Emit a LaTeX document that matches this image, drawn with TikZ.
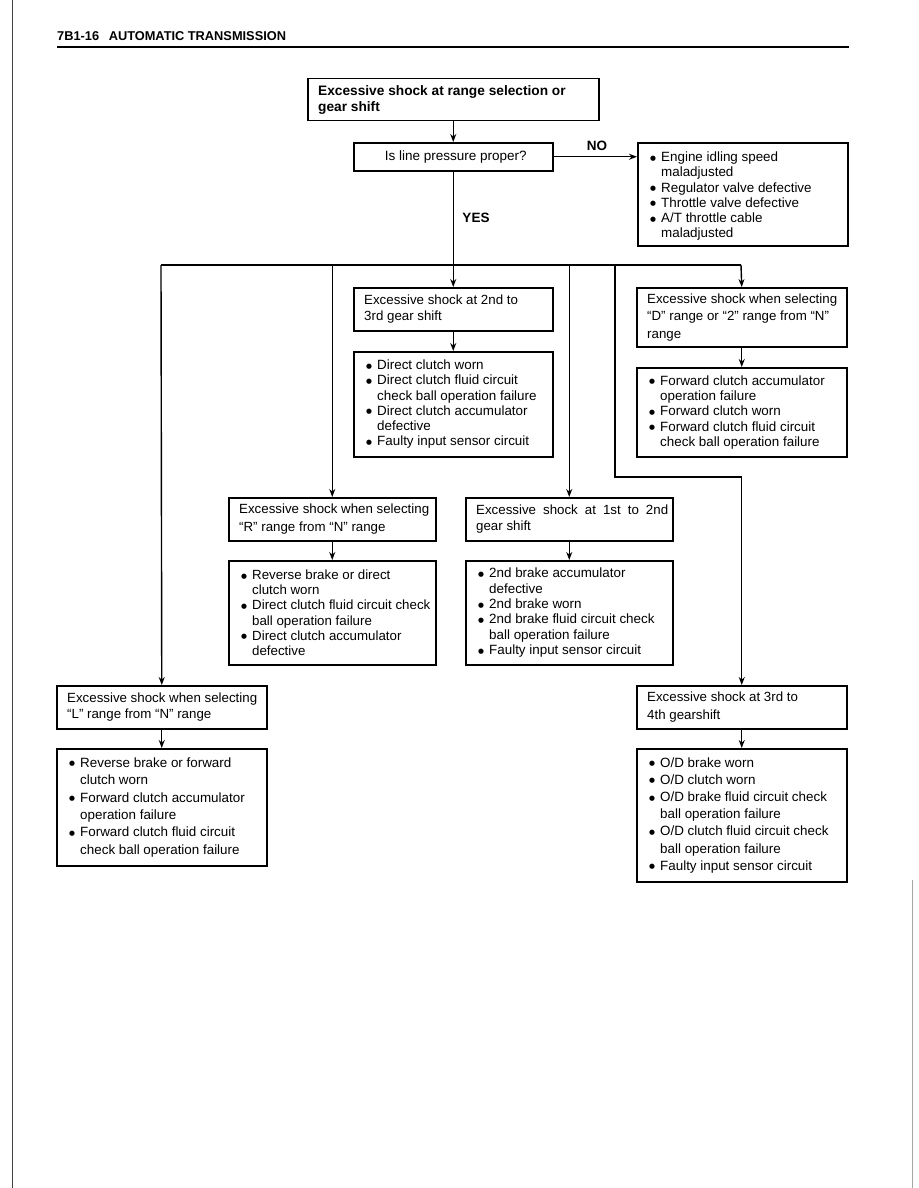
\documentclass[tikz,border=0pt]{standalone}
\usepackage{fontspec}
\setmainfont{Liberation Sans}
\newfontfamily\dvs{DejaVu Sans}
\usetikzlibrary{arrows.meta}
\newcommand{\bul}{\makebox[11pt][l]{\raisebox{1.4pt}{\dvs\fontsize{6.8}{6.8}\selectfont ●}}}
\newcommand{\ind}{\hspace*{11pt}}
\tikzset{
  box/.style={draw, rectangle, line width=1.5pt, anchor=north west, inner sep=0pt},
  txt/.style={anchor=west, align=left, inner sep=0pt, font=\fontsize{13.3}{16.5}\selectfont},
  cause/.style={anchor=west, align=left, inner sep=0pt, font=\fontsize{13.4}{15.3}\selectfont},
  conn/.style={line width=1.4pt},
  arr/.style={line width=1.4pt, -{Stealth[length=8pt,width=6pt]}},
  lab/.style={inner sep=0pt, font=\bfseries\fontsize{13.5}{13.5}\selectfont},
}
\begin{document}
\begin{tikzpicture}[x=1pt,y=-1pt]
\useasboundingbox (0,0) rectangle (918,1188);
% scan borders
\draw[line width=0.9pt, black!75] (12,0) -- (12,1188);
\draw[line width=0.6pt, black!35] (912,880) -- (912,1188);
% header
\node[anchor=base west, inner sep=0pt, font=\bfseries\fontsize{12.8}{12.8}\selectfont] (hdr) at (57,41) {7B1-16\hspace{0.75em}AUTOMATIC TRANSMISSION};
\draw[line width=2.6pt] (57,47) -- (849,47);

% boxes
\node[box, minimum width=291pt, minimum height=42pt] (top) at (307,78) {};
\node[txt, font=\bfseries\fontsize{13.7}{16}\selectfont] (ttop) at ([xshift=11pt]top.west) {Excessive shock at range selection or\\gear shift};

\node[box, minimum width=199pt, minimum height=28pt, font=\fontsize{13.5}{15}\selectfont] (q) at (353,142) {\hspace*{5pt}Is line pressure proper?};

\node[box, minimum width=210pt, minimum height=103pt] (no) at (637,142) {};
\node[cause] (tno) at ([xshift=13pt,yshift=-2pt]no.west) {\bul Engine idling speed\\\ind maladjusted\\\bul Regulator valve defective\\\bul Throttle valve defective\\\bul A/T throttle cable\\\ind maladjusted};

\node[box, minimum width=199pt, minimum height=43pt] (b23) at (353,287) {};
\node[txt] (tb23) at ([xshift=11pt]b23.west) {Excessive shock at 2nd to\\3rd gear shift};
\node[box, minimum width=199pt, minimum height=105pt] (c23) at (353,351) {};
\node[cause] (tc23) at ([xshift=13pt]c23.west) {\bul Direct clutch worn\\\bul Direct clutch fluid circuit\\\ind check ball operation failure\\\bul Direct clutch accumulator\\\ind defective\\\bul Faulty input sensor circuit};

\node[box, minimum width=210pt, minimum height=59pt] (bD) at (636,287) {};
\node[txt, font=\fontsize{13.3}{17.5}\selectfont] (tbD) at ([xshift=11pt]bD.west) {Excessive shock when selecting\\“D” range or “2” range from “N”\\range};
\node[box, minimum width=210pt, minimum height=89pt] (cD) at (636,367) {};
\node[cause] (tcD) at ([xshift=13pt]cD.west) {\bul Forward clutch accumulator\\\ind operation failure\\\bul Forward clutch worn\\\bul Forward clutch fluid circuit\\\ind check ball operation failure};

\node[box, minimum width=207pt, minimum height=43pt] (bR) at (228,497) {};
\node[txt, font=\fontsize{13.3}{18}\selectfont] (tbR) at ([xshift=11pt]bR.west) {Excessive shock when selecting\\“R” range from “N” range};
\node[box, minimum width=207pt, minimum height=104pt] (cR) at (228,560) {};
\node[cause, font=\fontsize{13.3}{15.2}\selectfont] (tcR) at ([xshift=13pt]cR.west) {\bul Reverse brake or direct\\\ind clutch worn\\\bul Direct clutch fluid circuit check\\\ind ball operation failure\\\bul Direct clutch accumulator\\\ind defective};

\node[box, minimum width=207pt, minimum height=43pt] (b12) at (465,497) {};
\node[txt, text width=192pt, align=justify] (tb12) at ([xshift=11pt]b12.west) {Excessive shock at 1st to 2nd gear shift};
\node[box, minimum width=207pt, minimum height=104pt] (c12) at (465,560) {};
\node[cause] (tc12) at ([xshift=13pt]c12.west) {\bul 2nd brake accumulator\\\ind defective\\\bul 2nd brake worn\\\bul 2nd brake fluid circuit check\\\ind ball operation failure\\\bul Faulty input sensor circuit};

\node[box, minimum width=210pt, minimum height=43pt] (bL) at (56,685) {};
\node[txt, font=\fontsize{13.3}{16.5}\selectfont] (tbL) at ([xshift=11pt]bL.west) {Excessive shock when selecting\\“L” range from “N” range};
\node[box, minimum width=210pt, minimum height=117pt] (cL) at (56,748) {};
\node[cause, font=\fontsize{13.4}{17.4}\selectfont] (tcL) at ([xshift=13pt]cL.west) {\bul Reverse brake or forward\\\ind clutch worn\\\bul Forward clutch accumulator\\\ind operation failure\\\bul Forward clutch fluid circuit\\\ind check ball operation failure};

\node[box, minimum width=210pt, minimum height=43pt] (b34) at (636,685) {};
\node[txt, font=\fontsize{13.3}{18}\selectfont] (tb34) at ([xshift=11pt]b34.west) {Excessive shock at 3rd to\\4th gearshift};
\node[box, minimum width=210pt, minimum height=133pt] (c34) at (636,748) {};
\node[cause, font=\fontsize{13.4}{17.2}\selectfont] (tc34) at ([xshift=13pt]c34.west) {\bul O/D brake worn\\\bul O/D clutch worn\\\bul O/D brake fluid circuit check\\\ind ball operation failure\\\bul O/D clutch fluid circuit check\\\ind ball operation failure\\\bul Faulty input sensor circuit};

% labels
\node[lab] (nolab) at (597,146) {NO};
\node[lab] (yeslab) at (476,218) {YES};

% connectors
\coordinate (hl) at (161,265);
\coordinate (hr) at (741,265);
\coordinate (k1) at (615,265);
\coordinate (k2) at (615,477);
\draw[arr] (top.south) -- (q.north);
\draw[arr] (q.east) -- (q.east -| no.west);
\draw[arr] (q.south) -- (b23.north);
\draw[conn] (hl) -- (hr);
\draw[arr] (hl) -- (bL.north);
\draw[arr] (hr) -- (bD.north);
\draw[arr] (bR.north |- hl) -- (bR.north);
\draw[arr] (b12.north |- hl) -- (b12.north);
\draw[arr] (k1) -- (k2) -| (b34.north);
\draw[arr] (b23.south) -- (c23.north);
\draw[arr] (bD.south) -- (cD.north);
\draw[arr] (bR.south) -- (cR.north);
\draw[arr] (b12.south) -- (c12.north);
\draw[arr] (bL.south) -- (cL.north);
\draw[arr] (b34.south) -- (c34.north);
\end{tikzpicture}
\end{document}
